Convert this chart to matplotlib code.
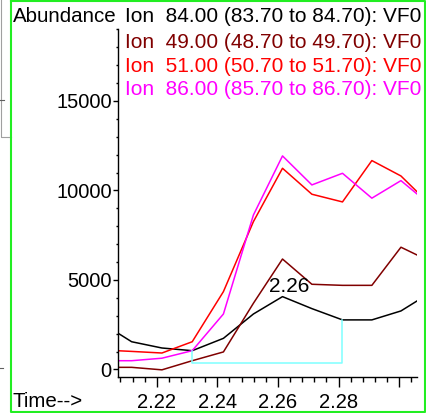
import matplotlib
matplotlib.use('Agg')
import matplotlib.pyplot as plt
from matplotlib.lines import Line2D
from matplotlib.ticker import MultipleLocator

plt.rcParams['font.family'] = ['Liberation Sans', 'DejaVu Sans']

# retention times (min) of the scans
times = [2.2019, 2.2117, 2.2217, 2.2317, 2.2420, 2.2519, 2.2615,
         2.2712, 2.2813, 2.2910, 2.3006, 2.3105]

# extracted ion abundances
ion84 = [2590, 1550, 1200, 1050, 1740, 3100, 4070, 3400, 2770, 2770, 3270, 4310]
ion49 = [120, 120, -20, 490, 980, 3700, 6170, 4760, 4700, 4700, 6830, 6020]
ion51 = [1090, 1010, 920, 1550, 4350, 8260, 11240, 9790, 9360, 11670, 10810, 9170]
ion86 = [490, 490, 630, 1050, 3100, 8630, 11930, 10310, 10960, 9570, 10550, 9160]

series = [ion84, ion49, ion51, ion86]
colors = ['#000000', '#800000', '#ff0000', '#ff00ff']
labels = ['Ion  84.00 (83.70 to 84.70): VF0',
          'Ion  49.00 (48.70 to 49.70): VF0',
          'Ion  51.00 (50.70 to 51.70): VF0',
          'Ion  86.00 (85.70 to 86.70): VF0']

# integrated peak (start, end, baseline) and its label
peak_start, peak_end, peak_base = 2.2317, 2.2813, 335
peak_apex, peak_label = 2.2615, '2.26'

W, H = 427, 413
fig = plt.figure(figsize=(W / 100, H / 100), dpi=100)
ax = fig.add_axes([118 / W, 1 - 377 / H, (416.7 - 118) / W, (377 - 29) / H])

for vals, c in zip(series, colors):
    ax.plot(times, vals, color=c, lw=1.1)

# baseline of the integrated peak
i0, i1 = times.index(peak_start), times.index(peak_end)
ax.plot([peak_start, peak_start, peak_end, peak_end],
        [ion84[i0], peak_base, peak_base, ion84[i1]], color='#7fffff', lw=1.1)
ax.text(peak_apex + 0.0021, ion84[times.index(peak_apex)] + 270, peak_label,
        fontsize=15, ha='center', va='baseline')

ax.set_xlim(2.2072, 2.3058)
ax.set_ylim(-420, 19020)
ax.xaxis.set_major_locator(MultipleLocator(0.02))
ax.xaxis.set_minor_locator(MultipleLocator(0.004))
ax.yaxis.set_major_locator(MultipleLocator(5000))
ax.yaxis.set_minor_locator(MultipleLocator(1000))
ax.xaxis.set_major_formatter(plt.FuncFormatter(lambda v, p: '%.2f' % v if v < 2.29 else ''))
ax.yaxis.set_major_formatter(plt.FuncFormatter(lambda v, p: '%d' % v))

for s in ['top', 'right']:
    ax.spines[s].set_visible(False)
for s in ['left', 'bottom']:
    ax.spines[s].set_linewidth(1.0)
ax.tick_params(axis='x', which='major', direction='out', length=7.5, width=1,
               labelsize=14.5, pad=4)
ax.tick_params(axis='x', which='minor', direction='out', length=3.8, width=1)
ax.tick_params(axis='y', which='major', direction='out', length=3.5, width=1,
               labelsize=14.5, pad=1)
ax.tick_params(axis='y', which='minor', direction='out', length=1.8, width=1)
ax.patch.set_visible(False)

# header texts
fig.text(12.7 / W, 1 - 21.7 / H, 'Abundance', fontsize=14.8, va='baseline')
ys = [21.7, 48.3, 71.7, 95]
for lab, c, y in zip(labels, colors, ys):
    fig.text(125 / W, 1 - y / H, lab, color=c, fontsize=15.0, va='baseline')
fig.text(12.7 / W, 1 - 407 / H, 'Time-->', fontsize=14.8, va='baseline')

# frame of the window
def px_line(xs, ys, **kw):
    fig.add_artist(Line2D([x / W for x in xs], [1 - y / H for y in ys],
                          transform=fig.transFigure, **kw))

px_line([1, 1, 11], [0, 137, 137], color='#a0a0a0', lw=0.8)
px_line([0, 4], [100, 100], color='#606060', lw=0.8)
px_line([0, 3], [368, 368], color='#606060', lw=0.8)
px_line([11.5, 425.5, 425.5, 11.5, 11.5], [0.8, 0.8, 411.5, 411.5, 0.8],
        color='#22ee22', lw=1.5)

fig.savefig('out.png', dpi=100)
